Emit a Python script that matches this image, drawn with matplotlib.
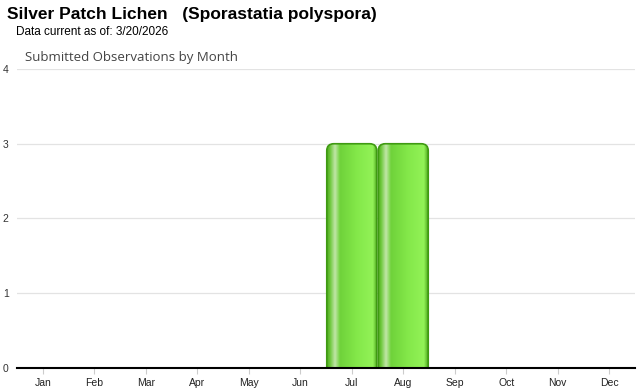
import numpy as np
import matplotlib.pyplot as plt
from matplotlib.patches import FancyBboxPatch
from matplotlib.colors import LinearSegmentedColormap

months = ["Jan", "Feb", "Mar", "Apr", "May", "Jun",
          "Jul", "Aug", "Sep", "Oct", "Nov", "Dec"]
counts = [0, 0, 0, 0, 0, 0, 3, 3, 0, 0, 0, 0]
y_ticks = [0, 1, 2, 3, 4]

title = "Silver Patch Lichen   (Sporastatia polyspora)"
subtitle = "Data current as of: 3/20/2026"
chart_title = "Submitted Observations by Month"

W, H = 640, 390
fig = plt.figure(figsize=(W / 100, H / 100), dpi=100)
left, right, bottom, top = 17, 635, 368, 69
ax = fig.add_axes([left / W, (H - bottom) / H, (right - left) / W, (bottom - top) / H])

x = np.arange(len(months))
ax.set_xlim(-0.5, len(months) - 0.5)
ax.set_ylim(0, 4)

# bar gradient: dark edge, light highlight stripe, green body, dark edge
grad = LinearSegmentedColormap.from_list("bar", [
    (0.0, "#4ea81f"), (0.06, "#6cc83a"), (0.16, "#c2e6a8"), (0.26, "#6fd23a"),
    (0.6, "#84e84a"), (0.92, "#92f257"), (1.0, "#52ad22")])

bars = ax.bar(x, counts, width=0.97, color="none", edgecolor="none")
px_x = 1 / ((right - left) / len(months))
px_y = 4 / (bottom - top)
for b in bars:
    h = b.get_height()
    if h <= 0:
        continue
    x0, w = b.get_x(), b.get_width()
    shape = FancyBboxPatch((x0, -0.3), w, h + 0.3,
                           boxstyle=f"round,pad=0,rounding_size={7 * px_x}",
                           mutation_aspect=px_y / px_x,
                           facecolor="none", edgecolor="#3f9a12", lw=1.2, zorder=3)
    ax.add_patch(shape)
    img = ax.imshow(np.linspace(0, 1, 256).reshape(1, -1), cmap=grad, aspect="auto",
                    extent=(x0, x0 + w, -0.3, h), zorder=2, interpolation="bilinear")
    img.set_clip_path(shape)

ax.set_xlim(-0.5, len(months) - 0.5)
ax.set_ylim(0, 4)

ax.set_yticks(y_ticks)
ax.set_yticklabels([str(v) for v in y_ticks], fontsize=7.5, color="#333333",
                   family="Liberation Sans")
ax.yaxis.grid(True, color="#e3e3e3", lw=0.9)
ax.set_axisbelow(True)
ax.tick_params(axis="y", length=0, pad=6)
ax.set_xticks(x)
ax.set_xticklabels(months, fontsize=7.5, color="#222222", family="Liberation Sans")
ax.tick_params(axis="x", length=4, color="#cccccc", pad=3, direction="out")

for s in ["top", "right", "left"]:
    ax.spines[s].set_visible(False)
ax.spines["bottom"].set_color("black")
ax.spines["bottom"].set_linewidth(1.5)
ax.spines["bottom"].set_zorder(5)

fig.text(7 / W, 1 - 15 / H, title, fontsize=12.5, fontweight="bold",
         family="Liberation Sans", va="center", ha="left")
fig.text(16 / W, 1 - 32 / H, subtitle, fontsize=8.5,
         family="Liberation Sans", va="center", ha="left")
fig.text(25 / W, 1 - 58 / H, chart_title, fontsize=9.5, color="#444444",
         family="Open Sans", va="center", ha="left")

fig.savefig("out.png", dpi=100)
